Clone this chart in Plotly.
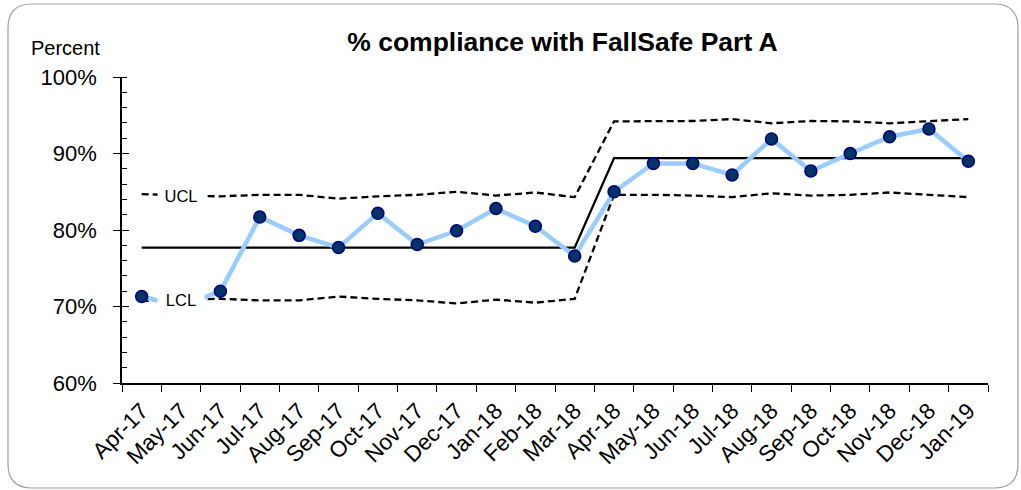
import plotly.graph_objects as go

months = ["Apr-17", "May-17", "Jun-17", "Jul-17", "Aug-17", "Sep-17", "Oct-17", "Nov-17",
          "Dec-17", "Jan-18", "Feb-18", "Mar-18", "Apr-18", "May-18", "Jun-18", "Jul-18",
          "Aug-18", "Sep-18", "Oct-18", "Nov-18", "Dec-18", "Jan-19"]
compliance = [71.3, 70.0, 72.0, 81.7, 79.3, 77.7, 82.2, 78.1, 79.9, 82.8, 80.5, 76.6,
              85.0, 88.7, 88.7, 87.2, 91.9, 87.7, 90.0, 92.2, 93.2, 89.0]
mean_line = [77.7] * 12 + [89.4] * 10
ucl = [84.7, 84.5, 84.4, 84.6, 84.6, 84.1, 84.4, 84.6, 85.0, 84.5, 84.9, 84.3,
       94.2, 94.25, 94.25, 94.5, 93.95, 94.25, 94.2, 93.95, 94.2, 94.5]
lcl = [70.7, 70.9, 71.0, 70.8, 70.8, 71.3, 71.0, 70.8, 70.4, 70.9, 70.5, 71.0,
       84.6, 84.6, 84.5, 84.3, 84.8, 84.5, 84.6, 84.9, 84.6, 84.3]
y_ticks = [60, 70, 80, 90, 100]
y_tick_labels = ["60%", "70%", "80%", "90%", "100%"]

FONT = "Liberation Sans, Arial, sans-serif"

fig = go.Figure()
fig.add_trace(go.Scatter(x=months, y=ucl, mode="lines",
                         line=dict(color="black", width=2.3, dash="7px,4px"), hoverinfo="skip"))
fig.add_trace(go.Scatter(x=months, y=lcl, mode="lines",
                         line=dict(color="black", width=2.3, dash="7px,4px"), hoverinfo="skip"))
fig.add_trace(go.Scatter(x=months, y=mean_line, mode="lines",
                         line=dict(color="black", width=2.3), hoverinfo="skip"))
fig.add_trace(go.Scatter(x=months, y=compliance, mode="lines+markers",
                         line=dict(color="#99CCFF", width=4.5),
                         marker=dict(size=12, color="#003366", line=dict(color="#000080", width=1.5))))
# invisible trace for overlay axis (inside half of major ticks)
fig.add_trace(go.Scatter(x=months, y=compliance, mode="none", yaxis="y2",
                         showlegend=False, hoverinfo="skip"))

L, R, T, B = 122, 33, 77, 107
W, H = 1021, 490
pw, ph = W - L - R, H - T - B

def px(xp):
    return (xp - L) / pw

def py(yp):
    return (H - B - yp) / ph

# rounded border
x0, x1 = px(8), px(1018)
y0, y1 = py(488), py(4)
rx, ry = 24 / pw, 24 / ph
path = (f"M {x0+rx},{y1} L {x1-rx},{y1} Q {x1},{y1} {x1},{y1-ry} "
        f"L {x1},{y0+ry} Q {x1},{y0} {x1-rx},{y0} L {x0+rx},{y0} "
        f"Q {x0},{y0} {x0},{y0+ry} L {x0},{y1-ry} Q {x0},{y1} {x0+rx},{y1} Z")

fig.update_layout(
    width=W, height=H,
    margin=dict(l=L, r=R, t=T, b=B),
    paper_bgcolor="white", plot_bgcolor="white",
    showlegend=False,
    font=dict(family=FONT, color="black"),
    title=dict(text="<b>% compliance with FallSafe Part A</b>", font=dict(size=26.5, family=FONT),
               xref="paper", x=px(562.5), xanchor="center", yref="container",
               y=1 - 42 / H, yanchor="middle"),
    xaxis=dict(type="category", range=[-0.5, len(months) - 0.5], tickson="boundaries",
               ticks="outside", ticklen=7, tickcolor="black", tickwidth=1,
               showline=True, linecolor="black", linewidth=1.5, showgrid=False,
               tickangle=-45, tickfont=dict(size=22.5), ticklabelstandoff=4, zeroline=False),
    yaxis=dict(range=[60, 100], tickvals=y_ticks, ticktext=y_tick_labels,
               ticks="outside", ticklen=7, tickcolor="black", tickwidth=1,
               showline=True, linecolor="black", linewidth=1.5, showgrid=False,
               zeroline=False, tickfont=dict(size=22), ticklabelstandoff=12,
               minor=dict(dtick=2, ticks="inside", ticklen=5, tickcolor="black", tickwidth=1,
                          showgrid=False)),
    yaxis2=dict(range=[60, 100], overlaying="y", side="left", tickvals=y_ticks,
                ticks="inside", ticklen=7, tickcolor="black", tickwidth=1,
                showticklabels=False, showgrid=False, zeroline=False, showline=False),
    shapes=[dict(type="path", xref="paper", yref="paper", path=path,
                 line=dict(color="#A0A0A0", width=1.2), fillcolor="rgba(0,0,0,0)")],
    annotations=[
        dict(text="Percent", xref="paper", yref="paper", x=px(102), y=py(48),
             xanchor="right", yanchor="middle", showarrow=False, font=dict(size=20)),
        dict(text="UCL", x=months[1], y=ucl[1], xref="x", yref="y", showarrow=False,
             font=dict(size=16.5), bgcolor="white", width=46, height=22, borderpad=0),
        dict(text="LCL", x=months[1], y=lcl[1], xref="x", yref="y", showarrow=False,
             font=dict(size=16.5), bgcolor="white", width=46, height=28, borderpad=0),
    ],
)

fig.write_html("out.html", config={"displayModeBar": False},
               post_script="document.body.style.margin='0px';")
